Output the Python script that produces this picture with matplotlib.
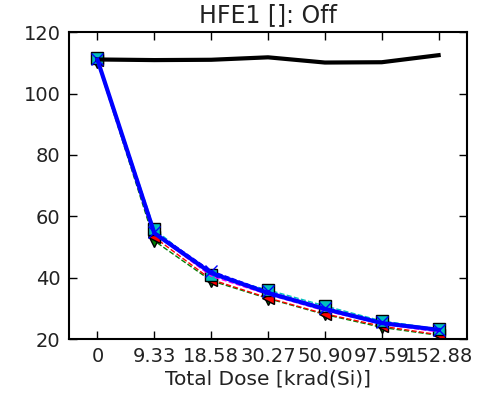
import matplotlib
matplotlib.use("Agg")
import matplotlib.pyplot as plt
import numpy as np

dose_labels = ["0", "9.33", "18.58", "30.27", "50.90", "97.59", "152.88"]
ref_line = [111.1, 110.9, 111.0, 111.8, 110.1, 110.2, 112.5]
dev_cyan = [111.5, 55.8, 40.9, 36.0, 30.8, 25.9, 23.3]
dev_red = [110.8, 53.2, 39.4, 33.4, 28.2, 24.2, 21.4]
dev_green = [110.3, 52.0, 39.0, 33.2, 28.0, 23.8, 21.2]
dev_blue = [111.2, 55.0, 42.2, 35.5, 30.2, 25.5, 23.0]
dev_mag = [111.0, 54.3, 40.5, 34.5, 29.2, 24.9, 22.3]
mean_line = [111.0, 54.5, 41.5, 35.0, 29.8, 25.2, 23.0]

x = np.arange(len(dose_labels))

fig = plt.figure(figsize=(4.81, 3.97), dpi=100)
ax = fig.add_axes([0.1435, 0.146, 0.8275, 0.773])

ax.plot(x, dev_green, color='green', linestyle='--', lw=1, marker='v', markersize=8,
        markeredgecolor='black', zorder=2)
ax.plot(x, dev_red, color='red', linestyle='--', lw=1, marker='<', markersize=8,
        markeredgecolor='black', zorder=2)
ax.plot(x, dev_cyan, color='c', linestyle='--', lw=1, marker='s', markersize=9,
        markeredgecolor='black', zorder=3)
ax.plot(x, dev_mag, color='magenta', linestyle='--', lw=1, zorder=3)
ax.plot(x, dev_blue, color='blue', linestyle='--', lw=1, marker='x', markersize=8, zorder=3)
ax.plot(x, ref_line, color='black', lw=3, zorder=4)
ax.plot(x, mean_line, color='blue', lw=3, zorder=5)

ax.set_xlim(-0.5, 6.5)
ax.set_ylim(20, 120)
ax.set_yticks([20, 40, 60, 80, 100, 120])
ax.set_xticks(x)
ax.set_xticklabels(dose_labels)
ax.tick_params(direction='in', top=True, right=True, labelsize=14, length=6, width=1,
               pad=6, labelcolor='#222222')
for s in ax.spines.values():
    s.set_linewidth(1.5)
ax.set_xlabel("Total Dose [krad(Si)]", fontsize=14.5, labelpad=2, color='#222222')
ax.set_title("HFE1 []: Off", fontsize=17, pad=7, color='#222222')

fig.savefig("out.png", dpi=100, facecolor='white')
